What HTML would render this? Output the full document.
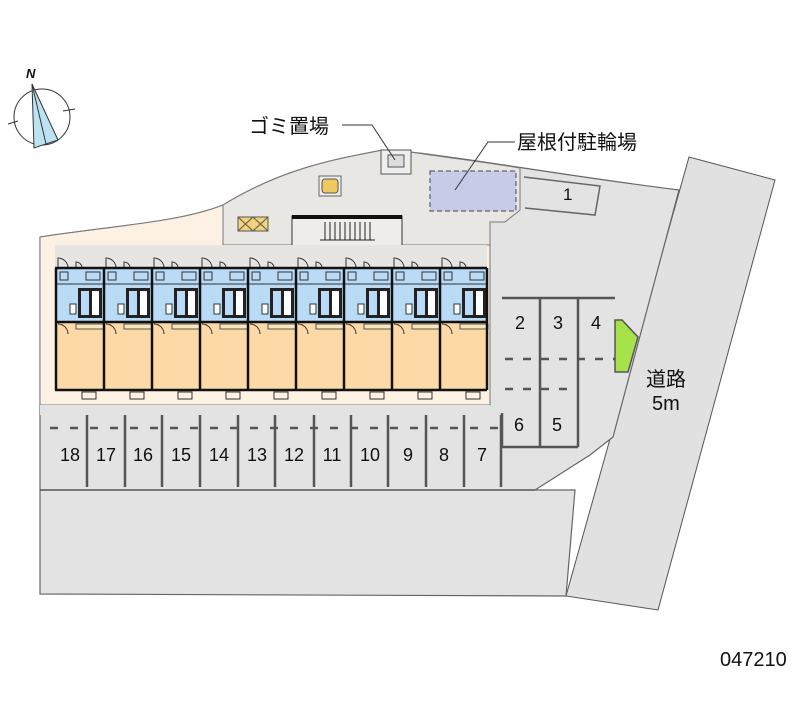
<!DOCTYPE html>
<html><head><meta charset="utf-8"><style>
html,body{margin:0;padding:0;background:#fff;width:800px;height:727px;overflow:hidden}
svg text{font-family:"Liberation Sans","Noto Sans CJK JP",sans-serif}
</style></head><body>
<svg width="800" height="727" viewBox="0 0 800 727" xmlns="http://www.w3.org/2000/svg">
<defs>
<g id="unit">
<path d="M2,0 L2,-10 A10,10 0 0 1 12,0" fill="none" stroke="#333" stroke-width="1"/>
<path d="M20,0 L20,-6 A6,6 0 0 1 26,0" fill="none" stroke="#333" stroke-width="1"/>
<line x1="0" y1="16" x2="48" y2="16" stroke="#333" stroke-width="1"/>
<rect x="4" y="4" width="8" height="8" fill="none" stroke="#333" stroke-width="1"/>
<rect x="30" y="4" width="14" height="8" fill="none" stroke="#333" stroke-width="1"/>
<rect x="22" y="20" width="24" height="30" fill="#222"/>
<rect x="25" y="23" width="8" height="24" fill="#b9dbf5"/>
<rect x="36" y="23" width="7" height="24" fill="#fff"/>
<rect x="14" y="36" width="6" height="10" fill="#fff" stroke="#333"/>
<rect x="20" y="56" width="28" height="5" fill="#f7e6b8" stroke="#333" stroke-width="0.8"/>
<path d="M2,56 A10,10 0 0 1 12,66" fill="none" stroke="#333"/>
<rect x="26" y="124" width="14" height="7" fill="none" stroke="#333"/>
</g>
</defs>
<polygon points="689,157 775,180 658,610 566,596" fill="#e1e1e1" stroke="#555" stroke-width="1"/>
<path d="M40,237 C120,225 180,222 223,205 C280,170 330,160 383,150 L410,152 C480,160 560,175 679,190 L613,437 L590,455 L535,490 L575,490 L566,596 L40,594 Z" fill="#e3e3e3" stroke="#666" stroke-width="1.2"/>
<path d="M223,205 C280,170 330,160 383,150 L410,152 C450,158 490,163 520,168 L520,210 L505,222 L490,222 L490,245 L223,245 Z" fill="#e9e7e4" stroke="#777" stroke-width="1"/>
<path d="M40,237 C120,225 180,222 223,205 L223,245 L490,245 L490,405 L40,405 Z" fill="#fdf1e3" stroke="#777" stroke-width="1"/>
<rect x="292" y="216" width="110" height="30" fill="#efedea" stroke="#333" stroke-width="1"/>
<rect x="292" y="215" width="110" height="4" fill="#111"/>
<g stroke="#222" stroke-width="1">
<line x1="325" y1="222" x2="325" y2="240"/><line x1="330" y1="222" x2="330" y2="240"/><line x1="335" y1="222" x2="335" y2="240"/><line x1="340" y1="222" x2="340" y2="240"/><line x1="345" y1="222" x2="345" y2="240"/><line x1="350" y1="222" x2="350" y2="240"/><line x1="355" y1="222" x2="355" y2="240"/><line x1="360" y1="222" x2="360" y2="240"/><line x1="365" y1="222" x2="365" y2="240"/><line x1="370" y1="222" x2="370" y2="240"/>
<line x1="320" y1="240" x2="375" y2="240"/></g>
<rect x="55" y="245" width="432" height="23" fill="#e7e5e2"/>
<rect x="381" y="150" width="30" height="24" fill="#eee" stroke="#555"/>
<rect x="388" y="155" width="16" height="12" fill="#ddd" stroke="#555"/>
<rect x="319" y="176" width="22" height="20" fill="#eee" stroke="#666"/>
<rect x="322" y="179" width="16" height="14" rx="3" fill="#f0c860" stroke="#555"/>
<rect x="238" y="217" width="30" height="14" fill="#f3d27a" stroke="#555"/>
<path d="M238,217 l15,14 M253,217 l-15,14 M253,217 l15,14 M268,217 l-15,14" stroke="#555"/>
<rect x="430" y="171" width="86" height="40" fill="#c8cbe8" stroke="#444" stroke-dasharray="5,3"/>
<path d="M524,177 L600,186 L595,215 L525,208" fill="none" stroke="#666" stroke-width="1.5"/>
<text x="563" y="200" font-size="17" fill="#111">1</text>
<rect x="55" y="268" width="432" height="54" fill="#b9dbf5"/>
<rect x="55" y="322" width="432" height="68" fill="#fdd9a7"/>
<use href="#unit" x="56" y="268"/><use href="#unit" x="104" y="268"/><use href="#unit" x="152" y="268"/><use href="#unit" x="200" y="268"/><use href="#unit" x="248" y="268"/><use href="#unit" x="296" y="268"/><use href="#unit" x="344" y="268"/><use href="#unit" x="392" y="268"/><use href="#unit" x="440" y="268"/>
<g stroke="#111" stroke-width="2.5" fill="none">
<line x1="55" y1="268" x2="487" y2="268"/>
<line x1="55" y1="390" x2="487" y2="390"/>
<line x1="55" y1="322" x2="487" y2="322"/>
<line x1="56" y1="268" x2="56" y2="390"/><line x1="104" y1="268" x2="104" y2="390"/><line x1="152" y1="268" x2="152" y2="390"/><line x1="200" y1="268" x2="200" y2="390"/><line x1="248" y1="268" x2="248" y2="390"/><line x1="296" y1="268" x2="296" y2="390"/><line x1="344" y1="268" x2="344" y2="390"/><line x1="392" y1="268" x2="392" y2="390"/><line x1="440" y1="268" x2="440" y2="390"/><line x1="487" y1="268" x2="487" y2="390"/>
</g>
<rect x="40" y="405" width="450" height="10" fill="#e3e3e3"/>
<line x1="40" y1="490" x2="535" y2="490" stroke="#555" stroke-width="1.5"/>
<g stroke="#555" stroke-width="2.5">
<line x1="87" y1="415" x2="87" y2="487"/><line x1="125" y1="415" x2="125" y2="487"/><line x1="162" y1="415" x2="162" y2="487"/><line x1="200" y1="415" x2="200" y2="487"/><line x1="238" y1="415" x2="238" y2="487"/><line x1="275" y1="415" x2="275" y2="487"/><line x1="314" y1="415" x2="314" y2="487"/><line x1="351" y1="415" x2="351" y2="487"/><line x1="388" y1="415" x2="388" y2="487"/><line x1="426" y1="415" x2="426" y2="487"/><line x1="464" y1="415" x2="464" y2="487"/><line x1="501" y1="415" x2="501" y2="487"/>
</g>
<g stroke="#555" stroke-width="2.5" stroke-dasharray="8,12">
<line x1="50" y1="428" x2="500" y2="428"/>
</g>
<g font-size="18" fill="#111" text-anchor="middle">
<text x="70" y="461">18</text><text x="106" y="461">17</text><text x="143" y="461">16</text><text x="181" y="461">15</text><text x="219" y="461">14</text><text x="257" y="461">13</text><text x="294" y="461">12</text><text x="332" y="461">11</text><text x="370" y="461">10</text><text x="408" y="461">9</text><text x="444" y="461">8</text><text x="482" y="461">7</text>
</g>
<g stroke="#555" stroke-width="2.5" fill="none">
<line x1="502" y1="298" x2="615" y2="298"/>
<line x1="540" y1="298" x2="540" y2="447"/><line x1="578" y1="298" x2="578" y2="447"/>
<path d="M502,413 L502,447 L578,447"/>
</g>
<g stroke="#555" stroke-width="2.5" stroke-dasharray="8,10">
<line x1="505" y1="359" x2="615" y2="359"/><line x1="505" y1="389" x2="575" y2="389"/>
</g>
<g font-size="18" fill="#111" text-anchor="middle">
<text x="520" y="329">2</text><text x="558" y="329">3</text><text x="596" y="329">4</text><text x="519" y="431">6</text><text x="557" y="431">5</text>
</g>
<polygon points="615,320 622,320 638,337 628,372 615,372" fill="#a6e34a" stroke="#555" stroke-width="1.5"/>
<g font-size="20" fill="#111">
<text x="249" y="133">ゴミ置場</text>
<text x="517" y="149">屋根付駐輪場</text>
<text x="646" y="386">道路</text>
<text x="652" y="410">5m</text>
</g>
<text x="720" y="666" font-size="20" fill="#111">047210</text>
<polyline points="342,125 372,125 395,160" fill="none" stroke="#333"/>
<polyline points="515,142 488,142 455,190" fill="none" stroke="#333"/>
<circle cx="42" cy="117" r="28" fill="none" stroke="#333"/>
<g stroke="#333"><line x1="8" y1="124" x2="18" y2="121"/><line x1="63" y1="111" x2="75" y2="109"/></g>
<polygon points="32,84 58,140 34,148" fill="#bde3f3" stroke="#333"/>
<line x1="32" y1="84" x2="46" y2="144" stroke="#333"/>
<text x="26" y="78" font-size="13" font-style="italic" font-weight="bold" fill="#111">N</text>
</svg>
</body></html>
